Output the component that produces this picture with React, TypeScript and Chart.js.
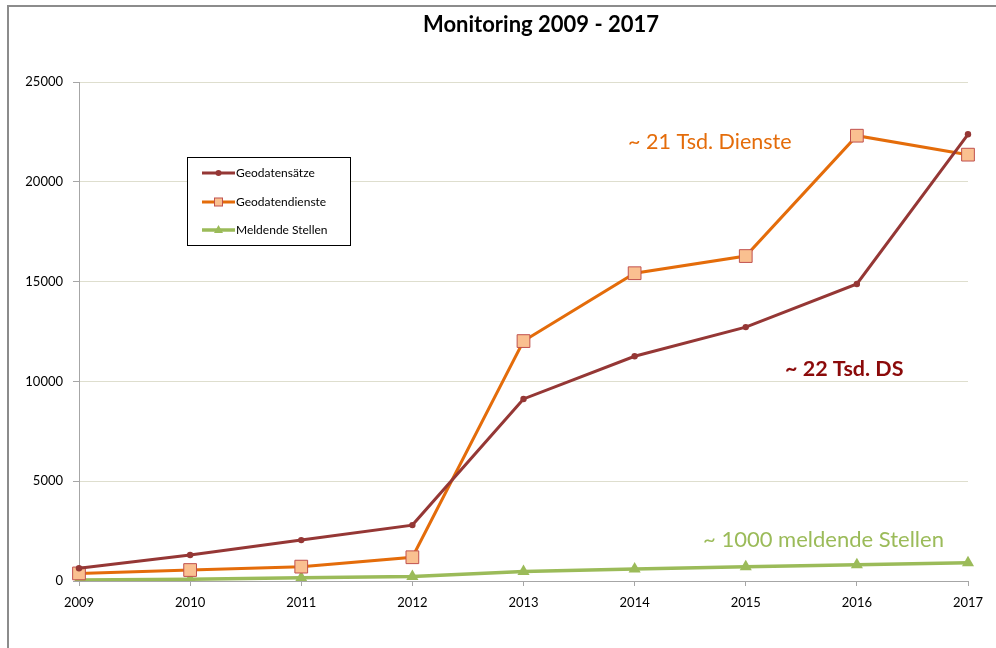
import { useEffect, useRef } from 'react';
import { Chart, registerables } from 'chart.js';

Chart.register(...registerables);

const categories = ['2009', '2010', '2011', '2012', '2013', '2014', '2015', '2016', '2017'];
const geodatensaetze = [640, 1300, 2050, 2800, 9120, 11260, 12720, 14880, 22380];
const geodatendienste = [380, 550, 720, 1190, 12020, 15420, 16280, 22310, 21360];
const meldendeStellen = [50, 90, 160, 220, 470, 600, 720, 820, 920];

const titleText = 'Monitoring 2009 - 2017';
const seriesNames = ['Geodatensätze', 'Geodatendienste', 'Meldende Stellen'];
const notes = ['~ 21 Tsd. Dienste', '~ 22 Tsd. DS', '~ 1000 meldende Stellen'];

const FONT = 'Lato, "Open Sans", "DejaVu Sans", sans-serif';

const framePlugin = {
  id: 'frame',
  beforeDraw(chart: any) {
    const ctx = chart.ctx;
    ctx.save();
    ctx.fillStyle = '#ffffff';
    ctx.fillRect(0, 0, chart.width, chart.height);
    ctx.strokeStyle = '#8c8c8c';
    ctx.lineWidth = 2;
    ctx.beginPath();
    ctx.moveTo(8, chart.height);
    ctx.lineTo(8, 6);
    ctx.lineTo(chart.width, 6);
    ctx.stroke();
    ctx.fillStyle = '#000000';
    ctx.font = 'bold 22px ' + FONT;
    ctx.textAlign = 'center';
    ctx.textBaseline = 'middle';
    ctx.fillText(titleText, 541, 25);
    ctx.restore();
  },
};

const legendPlugin = {
  id: 'boxLegend',
  afterDraw(chart: any) {
    const ctx = chart.ctx;
    const x0 = 187.5, y0 = 157.5, w = 163, h = 88;
    ctx.save();
    ctx.fillStyle = '#ffffff';
    ctx.fillRect(x0, y0, w, h);
    ctx.strokeStyle = '#000000';
    ctx.lineWidth = 1;
    ctx.strokeRect(x0, y0, w, h);
    const rows = [173, 202, 230];
    chart.data.datasets.forEach((ds: any, i: number) => {
      const y = rows[i];
      ctx.strokeStyle = ds.borderColor;
      ctx.lineWidth = ds.borderWidth;
      ctx.beginPath();
      ctx.moveTo(202, y);
      ctx.lineTo(235, y);
      ctx.stroke();
      ctx.fillStyle = ds.pointBackgroundColor;
      ctx.strokeStyle = ds.pointBorderColor;
      ctx.lineWidth = 1;
      const cx = 218.5;
      if (ds.pointStyle === 'circle') {
        ctx.beginPath();
        ctx.arc(cx, y, 3, 0, Math.PI * 2);
        ctx.fill();
      } else if (ds.pointStyle === 'rect') {
        ctx.fillRect(cx - 4, y - 4, 8, 8);
        ctx.strokeRect(cx - 4, y - 4, 8, 8);
      } else {
        ctx.beginPath();
        ctx.moveTo(cx, y - 5);
        ctx.lineTo(cx + 4.5, y + 3);
        ctx.lineTo(cx - 4.5, y + 3);
        ctx.closePath();
        ctx.fill();
      }
      ctx.fillStyle = '#000000';
      ctx.font = '12px ' + FONT;
      ctx.textBaseline = 'middle';
      ctx.textAlign = 'left';
      ctx.fillText(ds.label, 236, y);
    });
    ctx.restore();
  },
};

const notePlugin = {
  id: 'notes',
  afterDatasetsDraw(chart: any) {
    const ctx = chart.ctx;
    ctx.save();
    ctx.textBaseline = 'middle';
    ctx.textAlign = 'left';
    ctx.font = '21.5px ' + FONT;
    ctx.fillStyle = '#E46C0A';
    ctx.fillText(notes[0], 628, 142);
    ctx.font = 'bold 21.5px ' + FONT;
    ctx.fillStyle = '#8B0A0A';
    ctx.fillText(notes[1], 785, 369);
    ctx.font = '22px ' + FONT;
    ctx.fillStyle = '#9BBB59';
    ctx.fillText(notes[2], 703, 540);
    ctx.restore();
  },
};

export default function App() {
  const ref = useRef<HTMLCanvasElement>(null);
  useEffect(() => {
    document.body.style.margin = '0';
    const chart = new Chart(ref.current as HTMLCanvasElement, {
      type: 'line',
      data: {
        labels: categories,
        datasets: [
          {
            label: seriesNames[0],
            data: geodatensaetze,
            borderColor: '#953735',
            backgroundColor: '#953735',
            borderWidth: 3,
            pointStyle: 'circle',
            pointRadius: 3.2,
            pointBackgroundColor: '#953735',
            pointBorderColor: '#953735',
            pointBorderWidth: 0,
          },
          {
            label: seriesNames[1],
            data: geodatendienste,
            borderColor: '#E46C0A',
            backgroundColor: '#FAC090',
            borderWidth: 3,
            pointStyle: 'rect',
            pointRadius: 9,
            pointBackgroundColor: '#FAC090',
            pointBorderColor: '#C0504D',
            pointBorderWidth: 1,
          },
          {
            label: seriesNames[2],
            data: meldendeStellen,
            borderColor: '#9BBB59',
            backgroundColor: '#9BBB59',
            borderWidth: 3.5,
            pointStyle: 'triangle',
            pointRadius: 7,
            pointBackgroundColor: '#9BBB59',
            pointBorderColor: '#9BBB59',
            pointBorderWidth: 0,
          },
        ] as any,
      },
      options: {
        animation: false,
        responsive: false,
        devicePixelRatio: 1,
        layout: { padding: { left: 0, right: 28, top: 82, bottom: 0 } },
        plugins: {
          legend: { display: false },
          tooltip: { enabled: false },
          title: { display: false },
        },
        scales: {
          x: {
            type: 'category',
            offset: false,
            afterFit: (s: any) => { s.height = 67; },
            grid: { display: true, drawOnChartArea: false, drawTicks: true, tickLength: 5, color: '#a6a6a6' },
            border: { display: true, color: '#a6a6a6', width: 1 },
            ticks: { color: '#000000', font: { family: FONT, size: 13 }, padding: 9, maxRotation: 0 },
          },
          y: {
            min: 0,
            max: 25000,
            afterFit: (s: any) => { s.width = 79; },
            grid: { color: '#dedece', tickColor: '#a6a6a6', tickLength: 6, lineWidth: 1 },
            border: { display: true, color: '#a6a6a6', width: 1 },
            ticks: {
              stepSize: 5000,
              color: '#000000',
              font: { family: FONT, size: 13 },
              padding: 10,
              callback: (v: any) => String(v),
            },
          },
        },
      },
      plugins: [framePlugin, notePlugin, legendPlugin],
    } as any);
    return () => chart.destroy();
  }, []);
  return (
    <div style={{ width: 996, height: 648 }}>
      <canvas ref={ref} width={996} height={648} style={{ display: 'block' }} />
    </div>
  );
}
